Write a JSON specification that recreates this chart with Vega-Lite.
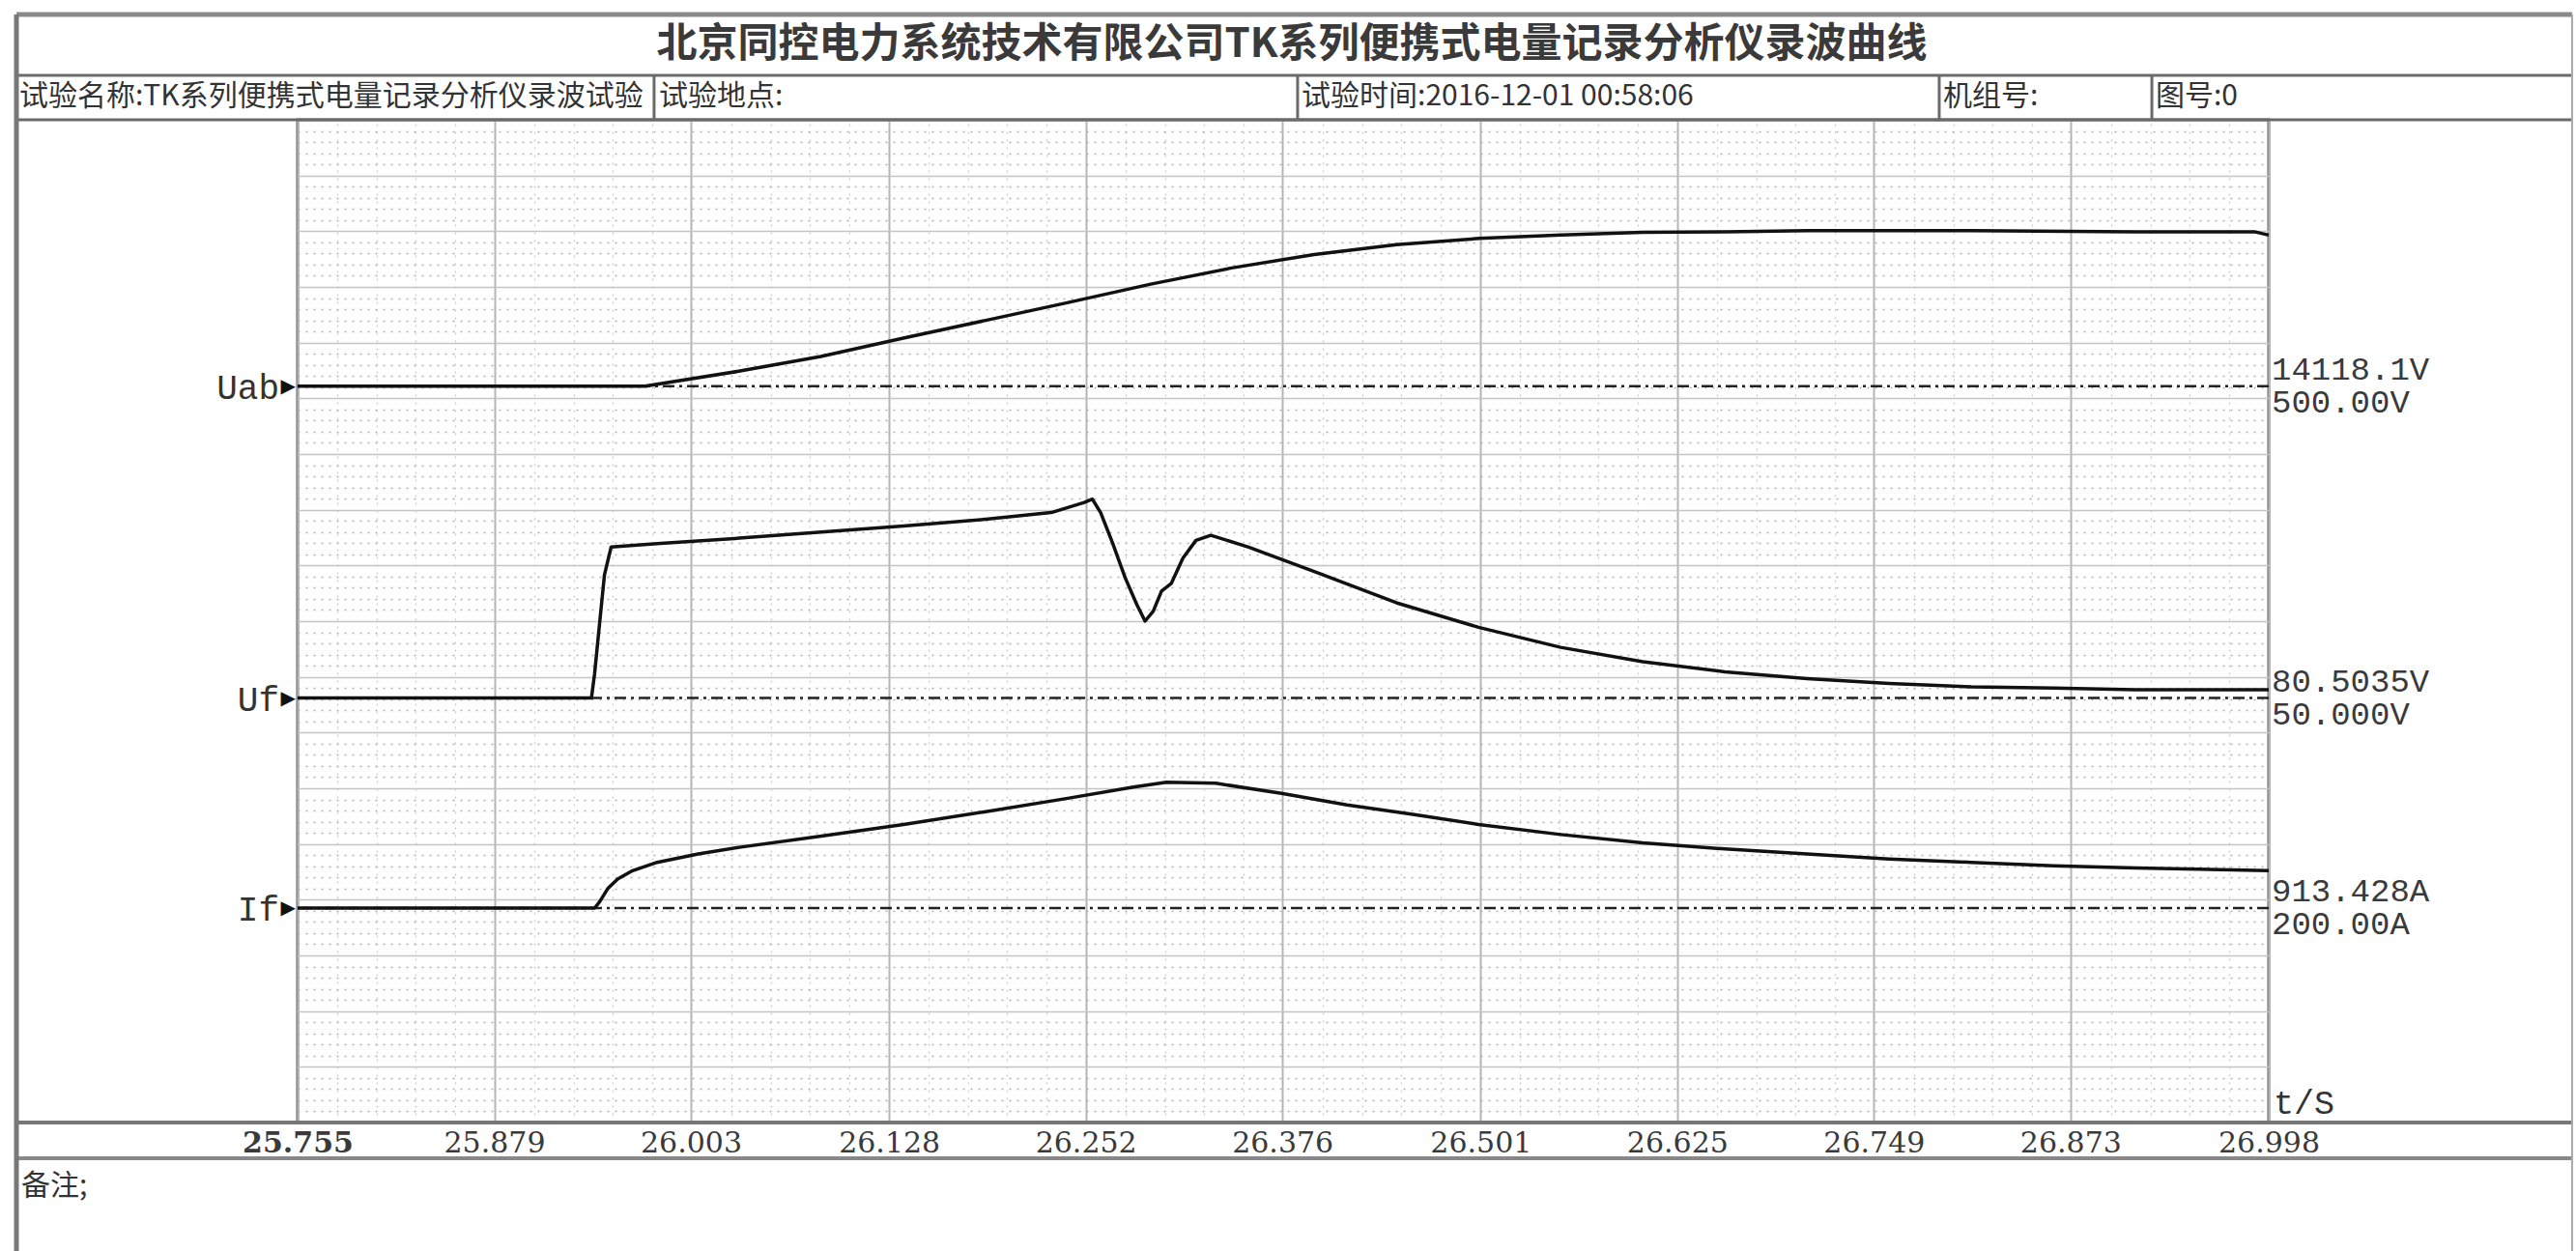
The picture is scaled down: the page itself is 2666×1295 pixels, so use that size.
{
  "$schema": "https://vega.github.io/schema/vega-lite/v6.json",
  "width": 2040,
  "height": 1038,
  "autosize": {"type": "none"},
  "padding": {"left": 308, "top": 124, "right": 318, "bottom": 133},
  "background": "white",
  "config": {"view": {"stroke": "#666", "strokeWidth": 3}},
  "datasets": {
    "channels": [
      {"ch": "Uab", "base": 13.22, "v1": "14118.1V", "v2": "500.00V"},
      {"ch": "Uf", "base": 7.62, "v1": "80.5035V", "v2": "50.000V"},
      {"ch": "If", "base": 3.85, "v1": "913.428A", "v2": "200.00A"}
    ],
    "traces": [
      {"series": "Uab", "t": 25.755, "v": 13.22},
      {"series": "Uab", "t": 25.974, "v": 13.22},
      {"series": "Uab", "t": 26.034, "v": 13.49},
      {"series": "Uab", "t": 26.085, "v": 13.75},
      {"series": "Uab", "t": 26.137, "v": 14.08},
      {"series": "Uab", "t": 26.189, "v": 14.40},
      {"series": "Uab", "t": 26.241, "v": 14.72},
      {"series": "Uab", "t": 26.293, "v": 15.05},
      {"series": "Uab", "t": 26.344, "v": 15.34},
      {"series": "Uab", "t": 26.396, "v": 15.58},
      {"series": "Uab", "t": 26.448, "v": 15.76},
      {"series": "Uab", "t": 26.500, "v": 15.87},
      {"series": "Uab", "t": 26.552, "v": 15.93},
      {"series": "Uab", "t": 26.603, "v": 15.98},
      {"series": "Uab", "t": 26.655, "v": 15.99},
      {"series": "Uab", "t": 26.707, "v": 16.01},
      {"series": "Uab", "t": 26.811, "v": 16.01},
      {"series": "Uab", "t": 26.914, "v": 15.99},
      {"series": "Uab", "t": 26.989, "v": 15.99},
      {"series": "Uab", "t": 26.998, "v": 15.93},
      {"series": "Uf", "t": 25.755, "v": 7.62},
      {"series": "Uf", "t": 25.9403, "v": 7.62},
      {"series": "Uf", "t": 25.9423, "v": 8.06},
      {"series": "Uf", "t": 25.9454, "v": 8.95},
      {"series": "Uf", "t": 25.9485, "v": 9.83},
      {"series": "Uf", "t": 25.9527, "v": 10.33},
      {"series": "Uf", "t": 25.9817, "v": 10.39},
      {"series": "Uf", "t": 26.0335, "v": 10.49},
      {"series": "Uf", "t": 26.0853, "v": 10.60},
      {"series": "Uf", "t": 26.1371, "v": 10.71},
      {"series": "Uf", "t": 26.1889, "v": 10.83},
      {"series": "Uf", "t": 26.2303, "v": 10.95},
      {"series": "Uf", "t": 26.2511, "v": 11.13},
      {"series": "Uf", "t": 26.2562, "v": 11.19},
      {"series": "Uf", "t": 26.2614, "v": 10.95},
      {"series": "Uf", "t": 26.2687, "v": 10.42},
      {"series": "Uf", "t": 26.2770, "v": 9.77},
      {"series": "Uf", "t": 26.2842, "v": 9.30},
      {"series": "Uf", "t": 26.2894, "v": 9.00},
      {"series": "Uf", "t": 26.2946, "v": 9.18},
      {"series": "Uf", "t": 26.2998, "v": 9.54},
      {"series": "Uf", "t": 26.3060, "v": 9.68},
      {"series": "Uf", "t": 26.3133, "v": 10.13},
      {"series": "Uf", "t": 26.3215, "v": 10.45},
      {"series": "Uf", "t": 26.3309, "v": 10.54},
      {"series": "Uf", "t": 26.3547, "v": 10.33},
      {"series": "Uf", "t": 26.3961, "v": 9.89},
      {"series": "Uf", "t": 26.4479, "v": 9.33},
      {"series": "Uf", "t": 26.4997, "v": 8.89},
      {"series": "Uf", "t": 26.5515, "v": 8.53},
      {"series": "Uf", "t": 26.6033, "v": 8.27},
      {"series": "Uf", "t": 26.6551, "v": 8.09},
      {"series": "Uf", "t": 26.7069, "v": 7.97},
      {"series": "Uf", "t": 26.7587, "v": 7.88},
      {"series": "Uf", "t": 26.8105, "v": 7.82},
      {"series": "Uf", "t": 26.8623, "v": 7.80},
      {"series": "Uf", "t": 26.9141, "v": 7.77},
      {"series": "Uf", "t": 26.998, "v": 7.77},
      {"series": "If", "t": 25.755, "v": 3.85},
      {"series": "If", "t": 25.9423, "v": 3.85},
      {"series": "If", "t": 25.9454, "v": 3.96},
      {"series": "If", "t": 25.9506, "v": 4.20},
      {"series": "If", "t": 25.9568, "v": 4.37},
      {"series": "If", "t": 25.9662, "v": 4.52},
      {"series": "If", "t": 25.9817, "v": 4.67},
      {"series": "If", "t": 26.0076, "v": 4.82},
      {"series": "If", "t": 26.0335, "v": 4.94},
      {"series": "If", "t": 26.0853, "v": 5.14},
      {"series": "If", "t": 26.1371, "v": 5.35},
      {"series": "If", "t": 26.1889, "v": 5.58},
      {"series": "If", "t": 26.2407, "v": 5.82},
      {"series": "If", "t": 26.2821, "v": 6.02},
      {"series": "If", "t": 26.3029, "v": 6.11},
      {"series": "If", "t": 26.3340, "v": 6.09},
      {"series": "If", "t": 26.3754, "v": 5.91},
      {"series": "If", "t": 26.4168, "v": 5.70},
      {"series": "If", "t": 26.4583, "v": 5.53},
      {"series": "If", "t": 26.4997, "v": 5.35},
      {"series": "If", "t": 26.5515, "v": 5.17},
      {"series": "If", "t": 26.6033, "v": 5.02},
      {"series": "If", "t": 26.6551, "v": 4.91},
      {"series": "If", "t": 26.7069, "v": 4.82},
      {"series": "If", "t": 26.7587, "v": 4.73},
      {"series": "If", "t": 26.8105, "v": 4.67},
      {"series": "If", "t": 26.8623, "v": 4.61},
      {"series": "If", "t": 26.9141, "v": 4.57},
      {"series": "If", "t": 26.998, "v": 4.52}
    ]
  },
  "layer": [
    {
      "data": {"values": [{}]},
      "mark": {"type": "rule", "color": "#8a8a8a", "strokeWidth": 5},
      "encoding": {"x": {"datum": 25.5777, "axis": null}, "x2": {"datum": 27.1893}, "y": {"datum": 19.89, "axis": null}}
    },
    {
      "data": {"values": [{}]},
      "mark": {"type": "rule", "color": "#6a6a6a", "strokeWidth": 3},
      "encoding": {"x": {"datum": 25.5777, "axis": null}, "x2": {"datum": 27.1893}, "y": {"datum": 18.798, "axis": null}}
    },
    {
      "data": {"values": [{}]},
      "mark": {"type": "rule", "color": "#6a6a6a", "strokeWidth": 3},
      "encoding": {"x": {"datum": 25.5777, "axis": null}, "x2": {"datum": 27.1893}, "y": {"datum": 18.0, "axis": null}}
    },
    {
      "data": {"values": [{}]},
      "mark": {"type": "rule", "color": "#6a6a6a", "strokeWidth": 3},
      "encoding": {"x": {"datum": 25.9798, "axis": null}, "y": {"datum": 18.798, "axis": null}, "y2": {"datum": 18.0}}
    },
    {
      "data": {"values": [{}]},
      "mark": {"type": "rule", "color": "#6a6a6a", "strokeWidth": 3},
      "encoding": {"x": {"datum": 26.3856, "axis": null}, "y": {"datum": 18.798, "axis": null}, "y2": {"datum": 18.0}}
    },
    {
      "data": {"values": [{}]},
      "mark": {"type": "rule", "color": "#6a6a6a", "strokeWidth": 3},
      "encoding": {"x": {"datum": 26.7902, "axis": null}, "y": {"datum": 18.798, "axis": null}, "y2": {"datum": 18.0}}
    },
    {
      "data": {"values": [{}]},
      "mark": {"type": "rule", "color": "#6a6a6a", "strokeWidth": 3},
      "encoding": {"x": {"datum": 26.9243, "axis": null}, "y": {"datum": 18.798, "axis": null}, "y2": {"datum": 18.0}}
    },
    {
      "data": {"values": [{}]},
      "mark": {"type": "rule", "color": "#777", "strokeWidth": 4},
      "encoding": {"x": {"datum": 25.5777, "axis": null}, "x2": {"datum": 27.1893}, "y": {"datum": 0, "axis": null}}
    },
    {
      "data": {"values": [{}]},
      "mark": {"type": "rule", "color": "#888", "strokeWidth": 4},
      "encoding": {"x": {"datum": 25.5777, "axis": null}, "x2": {"datum": 27.1893}, "y": {"datum": -0.642, "axis": null}}
    },
    {
      "data": {"values": [{}]},
      "mark": {"type": "rule", "color": "#777", "strokeWidth": 5},
      "encoding": {"x": {"datum": 25.5777, "axis": null}, "y": {"datum": 19.89, "axis": null}, "y2": {"datum": -2.4}}
    },
    {
      "data": {"values": [{}]},
      "mark": {"type": "rule", "color": "#aaa", "strokeWidth": 2},
      "encoding": {"x": {"datum": 27.1893, "axis": null}, "y": {"datum": 19.89, "axis": null}, "y2": {"datum": -2.4}}
    },
    {
      "data": {"name": "channels"},
      "mark": {"type": "rule", "color": "#222", "strokeWidth": 2.5, "strokeDash": [12, 5, 3, 5]},
      "encoding": {
        "y": {
          "field": "base", "type": "quantitative",
          "scale": {"domain": [0, 18], "nice": false, "zero": false},
          "axis": {
            "orient": "left", "title": null, "labels": false, "ticks": false, "domain": false,
            "grid": true, "gridColor": "#b0b0b0", "gridWidth": 1.5, "gridDash": [2, 6],
            "values": [0.2,0.4,0.6,0.8,1.2,1.4,1.6,1.8,2.2,2.4,2.6,2.8,3.2,3.4,3.6,3.8,4.2,4.4,4.6,4.8,5.2,5.4,5.6,5.8,6.2,6.4,6.6,6.8,7.2,7.4,7.6,7.8,8.2,8.4,8.6,8.8,9.2,9.4,9.6,9.8,10.2,10.4,10.6,10.8,11.2,11.4,11.6,11.8,12.2,12.4,12.6,12.8,13.2,13.4,13.6,13.8,14.2,14.4,14.6,14.8,15.2,15.4,15.6,15.8,16.2,16.4,16.6,16.8,17.2,17.4,17.6,17.8]
          }
        }
      }
    },
    {
      "data": {"name": "traces"},
      "mark": {"type": "line", "color": "#111", "strokeWidth": 3.5, "strokeJoin": "round"},
      "encoding": {
        "x": {
          "field": "t", "type": "quantitative",
          "scale": {"domain": [25.755, 26.998], "nice": false, "zero": false},
          "axis": {
            "orient": "bottom", "title": null, "ticks": false, "tickSize": 0, "domain": false,
            "grid": true, "gridColor": "#b5b5b5", "gridWidth": 2,
            "values": [25.755, 25.879, 26.003, 26.128, 26.252, 26.376, 26.501, 26.625, 26.749, 26.873, 26.998],
            "format": ".3f", "labelFont": "DejaVu Serif", "labelFontSize": 30, "labelColor": "#3a3a3a",
            "labelPadding": 6, "labelFlush": false, "labelOverlap": false, "labelBound": false,
            "labelFontWeight": {"condition": {"test": "datum.value == 25.755", "value": "bold"}, "value": "normal"},
            "encode": {"labels": {"update": {"dx": {"signal": "23 - 17 * (datum.value - 25.755) / 1.243"}}}}
          }
        },
        "y": {
          "field": "v", "type": "quantitative",
          "axis": {
            "orient": "right", "title": null, "labels": false, "ticks": false, "domain": false,
            "grid": true, "gridColor": "#c4c4c4", "gridWidth": 1.5,
            "values": [1,2,3,4,5,6,7,8,9,10,11,12,13,14,15,16,17]
          }
        },
        "detail": {"field": "series"}
      }
    },
    {
      "data": {"name": "channels"},
      "mark": {"type": "text", "align": "right", "baseline": "middle", "dx": -19, "dy": 2, "font": "Liberation Mono", "fontSize": 36, "color": "#333"},
      "encoding": {
        "x": {
          "datum": 25.755,
          "axis": {
            "orient": "top", "title": null, "labels": false, "ticks": false, "domain": false,
            "grid": true, "gridColor": "#c8c8c8", "gridWidth": 1.2, "gridDash": [2, 6],
            "values": [25.77986,25.80472,25.82958,25.85444,25.90416,25.92902,25.95388,25.97874,26.02846,26.05332,26.07818,26.10304,26.15276,26.17762,26.20248,26.22734,26.27706,26.30192,26.32678,26.35164,26.40136,26.42622,26.45108,26.47594,26.52566,26.55052,26.57538,26.60024,26.64996,26.67482,26.69968,26.72454,26.77426,26.79912,26.82398,26.84884,26.89856,26.92342,26.94828,26.97314]
          }
        },
        "y": {"field": "base", "type": "quantitative", "axis": null},
        "text": {"field": "ch"}
      }
    },
    {
      "data": {"name": "channels"},
      "mark": {"type": "text", "align": "right", "baseline": "middle", "dx": -2, "font": "DejaVu Sans", "fontSize": 20, "color": "#111", "text": "▶"},
      "encoding": {
        "x": {"datum": 25.755, "axis": null},
        "y": {"field": "base", "type": "quantitative", "axis": null}
      }
    },
    {
      "data": {"name": "channels"},
      "mark": {"type": "text", "align": "left", "baseline": "middle", "dx": 3, "dy": -17, "font": "Liberation Mono", "fontSize": 34, "color": "#3a3a3a"},
      "encoding": {
        "x": {"datum": 26.998, "axis": null},
        "y": {"field": "base", "type": "quantitative", "axis": null},
        "text": {"field": "v1"}
      }
    },
    {
      "data": {"name": "channels"},
      "mark": {"type": "text", "align": "left", "baseline": "middle", "dx": 3, "dy": 17, "font": "Liberation Mono", "fontSize": 34, "color": "#3a3a3a"},
      "encoding": {
        "x": {"datum": 26.998, "axis": null},
        "y": {"field": "base", "type": "quantitative", "axis": null},
        "text": {"field": "v2"}
      }
    },
    {
      "data": {"values": [{}]},
      "mark": {"type": "text", "align": "center", "baseline": "middle", "font": "Noto Sans CJK SC", "fontSize": 42, "fontWeight": "bold", "color": "#3a3a3a", "text": "北京同控电力系统技术有限公司TK系列便携式电量记录分析仪录波曲线"},
      "encoding": {"x": {"datum": 26.382, "axis": null}, "y": {"datum": 19.35, "axis": null}}
    },
    {
      "data": {"values": [{}]},
      "mark": {"type": "text", "align": "left", "baseline": "middle", "font": "Noto Sans CJK SC", "fontSize": 30, "color": "#333", "text": "试验名称:TK系列便携式电量记录分析仪录波试验"},
      "encoding": {"x": {"datum": 25.5795, "axis": null}, "y": {"datum": 18.41, "axis": null}}
    },
    {
      "data": {"values": [{}]},
      "mark": {"type": "text", "align": "left", "baseline": "middle", "font": "Noto Sans CJK SC", "fontSize": 30, "color": "#333", "text": "试验地点:"},
      "encoding": {"x": {"datum": 25.9829, "axis": null}, "y": {"datum": 18.41, "axis": null}}
    },
    {
      "data": {"values": [{}]},
      "mark": {"type": "text", "align": "left", "baseline": "middle", "font": "Noto Sans CJK SC", "fontSize": 30, "color": "#333", "text": "试验时间:2016-12-01 00:58:06"},
      "encoding": {"x": {"datum": 26.3881, "axis": null}, "y": {"datum": 18.41, "axis": null}}
    },
    {
      "data": {"values": [{}]},
      "mark": {"type": "text", "align": "left", "baseline": "middle", "font": "Noto Sans CJK SC", "fontSize": 30, "color": "#333", "text": "机组号:"},
      "encoding": {"x": {"datum": 26.7926, "axis": null}, "y": {"datum": 18.41, "axis": null}}
    },
    {
      "data": {"values": [{}]},
      "mark": {"type": "text", "align": "left", "baseline": "middle", "font": "Noto Sans CJK SC", "fontSize": 30, "color": "#333", "text": "图号:0"},
      "encoding": {"x": {"datum": 26.9267, "axis": null}, "y": {"datum": 18.41, "axis": null}}
    },
    {
      "data": {"values": [{}]},
      "mark": {"type": "text", "align": "left", "baseline": "middle", "font": "Noto Sans CJK SC", "fontSize": 30, "color": "#333", "text": "备注;"},
      "encoding": {"x": {"datum": 25.5807, "axis": null}, "y": {"datum": -1.145, "axis": null}}
    },
    {
      "data": {"values": [{}]},
      "mark": {"type": "text", "align": "left", "baseline": "bottom", "dx": 5, "dy": -2, "font": "Liberation Mono", "fontSize": 35, "color": "#333", "text": "t/S"},
      "encoding": {"x": {"datum": 26.998, "axis": null}, "y": {"datum": 0, "axis": null}}
    }
  ]
}
